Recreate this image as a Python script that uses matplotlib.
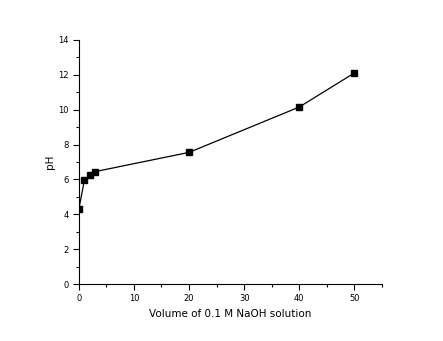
import matplotlib
matplotlib.use('Agg')
import matplotlib.pyplot as plt
from matplotlib.ticker import MultipleLocator

volume = [0, 1, 2, 3, 20, 40, 50]
ph = [4.3, 5.95, 6.25, 6.45, 7.55, 10.15, 12.1]

fig = plt.figure(figsize=(4.43, 3.41), dpi=100)
ax = fig.add_axes([0.178, 0.167, 0.684, 0.716])

ax.plot(volume, ph, color='black', linewidth=0.9, marker='s', markersize=4)

ax.set_xlim(0, 55)
ax.set_ylim(0, 14)
ax.xaxis.set_major_locator(MultipleLocator(10))
ax.xaxis.set_minor_locator(MultipleLocator(5))
ax.yaxis.set_major_locator(MultipleLocator(2))
ax.yaxis.set_minor_locator(MultipleLocator(1))
ax.spines['top'].set_visible(False)
ax.spines['right'].set_visible(False)
ax.tick_params(which='major', direction='out', length=4, width=0.8, labelsize=6, colors='black')
ax.tick_params(which='minor', direction='out', length=2.5, width=0.8)

ax.set_xlabel('Volume of 0.1 M NaOH solution', fontsize=7.5, labelpad=4)
ax.set_ylabel('pH', fontsize=7.5, labelpad=2)

fig.savefig('out.png', dpi=100)
